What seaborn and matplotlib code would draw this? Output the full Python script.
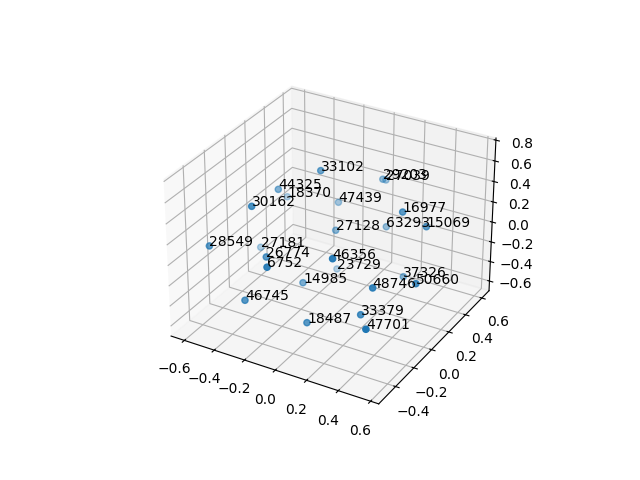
import pandas as pd
import matplotlib
matplotlib.use('Agg')
import matplotlib.pyplot as plt
import seaborn as sns

labels = ['33102', '29203', '27039', '44325', '18370', '30162', '47439', '16977', '27128', '63293',
          '15069', '28549', '27181', '26774', '6752', '46356', '23729', '14985', '37326', '50660',
          '48746', '46745', '33379', '18487', '47701']
x = [-0.135, 0.113, 0.103, -0.346, -0.39, -0.351, -0.1, 0.35, -0.031, 0.195, 0.478, -0.536, -0.435,
     -0.243, -0.147, 0.159, -0.045, -0.088, 0.373, 0.546, 0.362, -0.275, 0.316, 0.049, 0.432]
y = [0.114, 0.372, 0.425, 0.007, 0.166, -0.252, 0.245, 0.181, 0.102, 0.275, 0.222, -0.4, -0.047,
     -0.281, -0.42, -0.243, 0.139, -0.153, 0.162, -0.008, -0.159, -0.451, -0.207, -0.332, -0.348]
z = [0.615, 0.441, 0.39, 0.428, 0.217, 0.46, 0.223, 0.367, 0.088, 0.084, 0.248, 0.115, -0.138,
     0.041, 0.099, 0.173, -0.334, -0.248, -0.241, -0.088, -0.087, -0.256, -0.33, -0.427, -0.293]

df = pd.DataFrame({'label': labels, 'x': x, 'y': y, 'z': z})
blue = sns.color_palette('tab10')[0]

fig = plt.figure(figsize=(6.4, 4.8), dpi=100)
ax = fig.add_subplot(projection='3d')
ax.scatter(df['x'], df['y'], df['z'], color=blue)

# each point carries its id
for _, row in df.iterrows():
    ax.text(row['x'], row['y'], row['z'], row['label'], color='black')

ax.set_xlim(-0.69, 0.65)
ax.set_ylim(-0.58, 0.69)
ax.set_zlim(-0.70, 0.82)
fig.savefig('out.png', dpi=100)
